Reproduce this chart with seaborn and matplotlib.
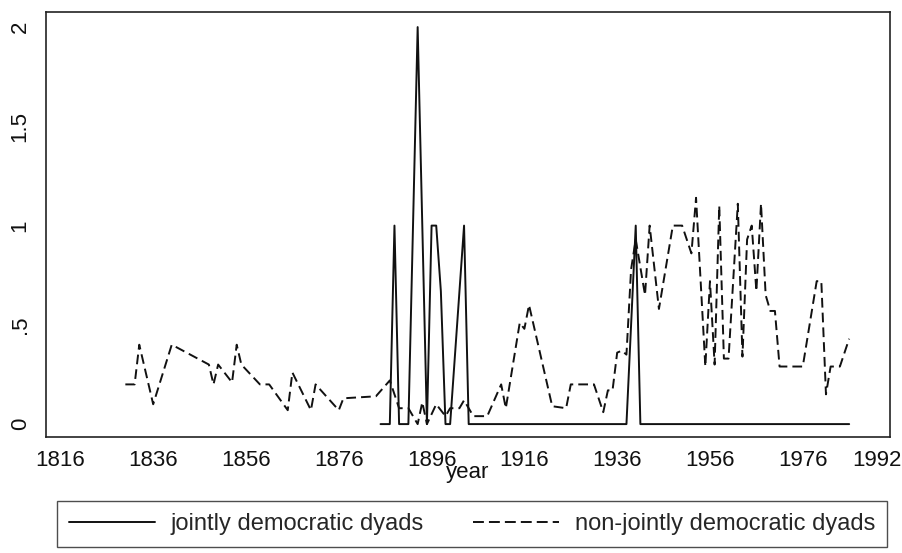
import matplotlib
matplotlib.use("Agg")
import matplotlib.pyplot as plt
import seaborn as sns
import pandas as pd
from matplotlib.lines import Line2D

# --- data -------------------------------------------------------------
joint_years = [1885, 1887, 1888, 1889, 1891, 1893, 1895, 1896, 1897, 1898,
               1899, 1900, 1903, 1904, 1938, 1940, 1941, 1986]
joint_vals = [0, 0, 1, 0, 0, 2, 0, 1, 1, 0.67,
              0, 0, 1, 0, 0, 1, 0, 0]

nonjoint_years = [1830, 1832, 1833, 1836, 1840, 1848, 1849, 1850, 1853, 1854,
                  1855, 1859, 1861, 1865, 1866, 1870, 1871, 1876, 1877, 1884,
                  1887, 1889, 1891, 1893, 1894, 1895, 1897, 1899, 1900, 1902,
                  1903, 1905, 1906, 1908, 1911, 1912, 1915, 1916, 1917, 1922,
                  1925, 1926, 1931, 1933, 1934, 1935, 1936, 1937, 1938, 1939,
                  1940, 1942, 1943, 1945, 1948, 1950, 1952, 1953, 1955, 1956,
                  1957, 1958, 1959, 1960, 1962, 1963, 1964, 1965, 1966, 1967,
                  1968, 1969, 1970, 1971, 1976, 1979, 1980, 1981, 1982, 1984,
                  1986]
nonjoint_vals = [0.20, 0.20, 0.40, 0.10, 0.40, 0.30, 0.20, 0.30, 0.21, 0.40,
                 0.30, 0.20, 0.20, 0.07, 0.26, 0.07, 0.20, 0.07, 0.13, 0.14,
                 0.22, 0.08, 0.08, 0.00, 0.11, 0.00, 0.10, 0.04, 0.08, 0.08,
                 0.12, 0.04, 0.04, 0.04, 0.20, 0.08, 0.51, 0.48, 0.60, 0.09,
                 0.08, 0.20, 0.20, 0.06, 0.17, 0.17, 0.36, 0.37, 0.35, 0.78,
                 0.93, 0.65, 1.00, 0.58, 1.00, 1.00, 0.86, 1.14, 0.29, 0.72,
                 0.30, 1.10, 0.33, 0.33, 1.11, 0.34, 0.93, 1.00, 0.67, 1.11,
                 0.65, 0.57, 0.57, 0.29, 0.29, 0.72, 0.72, 0.15, 0.29, 0.29,
                 0.43]

x_ticks = [1816, 1836, 1856, 1876, 1896, 1916, 1936, 1956, 1976, 1992]
y_ticks = [0, 0.5, 1, 1.5, 2]
y_ticklabels = ["0", ".5", "1", "1.5", "2"]
series_labels = ["jointly democratic dyads", "non-jointly democratic dyads"]

# --- style ------------------------------------------------------------
sns.set_style("white")
plt.rcParams["font.family"] = ["Liberation Sans", "DejaVu Sans"]

INK = "#111111"
LW = 1.4
DASH = [5, 2.6]
FS = 16
LFS = 17

W, H = 902, 553
fig = plt.figure(figsize=(W / 100, H / 100), dpi=100)
ax = fig.add_axes([46 / W, 1 - 437 / H, (890 - 46) / W, (437 - 12) / H])

df_j = pd.DataFrame({"year": joint_years, "v": joint_vals})
df_n = pd.DataFrame({"year": nonjoint_years, "v": nonjoint_vals})

sns.lineplot(data=df_j, x="year", y="v", ax=ax, color=INK,
             linewidth=LW, estimator=None, sort=False)
sns.lineplot(data=df_n, x="year", y="v", ax=ax, color=INK,
             linewidth=LW, estimator=None, sort=False)
ax.lines[1].set_dashes(DASH)

ax.set_xlim(1812.9, 1994.8)
ax.set_ylim(-0.065, 2.076)
ax.set_xticks(x_ticks)
ax.set_yticks(y_ticks)
ax.set_yticklabels(y_ticklabels, rotation=90, va="center")
ax.tick_params(axis="both", direction="out", length=7, width=1,
               color="#222222", labelsize=FS, labelcolor=INK, pad=4)
ax.tick_params(axis="x", pad=2)
ax.set_xlabel("year", fontsize=FS, labelpad=-6, color=INK)
ax.set_ylabel("")
for s in ax.spines.values():
    s.set_visible(True)
    s.set_color("#222222")
    s.set_linewidth(1.2)

handles = [Line2D([], [], color=INK, lw=LW),
           Line2D([], [], color=INK, lw=LW, dashes=[5.6, 2.6])]
leg = fig.legend(handles, series_labels, ncol=2, loc="center",
                 bbox_to_anchor=(472 / W, 1 - 524 / H),
                 frameon=True, fancybox=False, fontsize=LFS,
                 handlelength=3.65, columnspacing=2.1, handletextpad=0.64,
                 borderpad=0.5)
leg.get_frame().set_edgecolor("#222222")
leg.get_frame().set_linewidth(1.0)

fig.savefig("out.png", dpi=100)
